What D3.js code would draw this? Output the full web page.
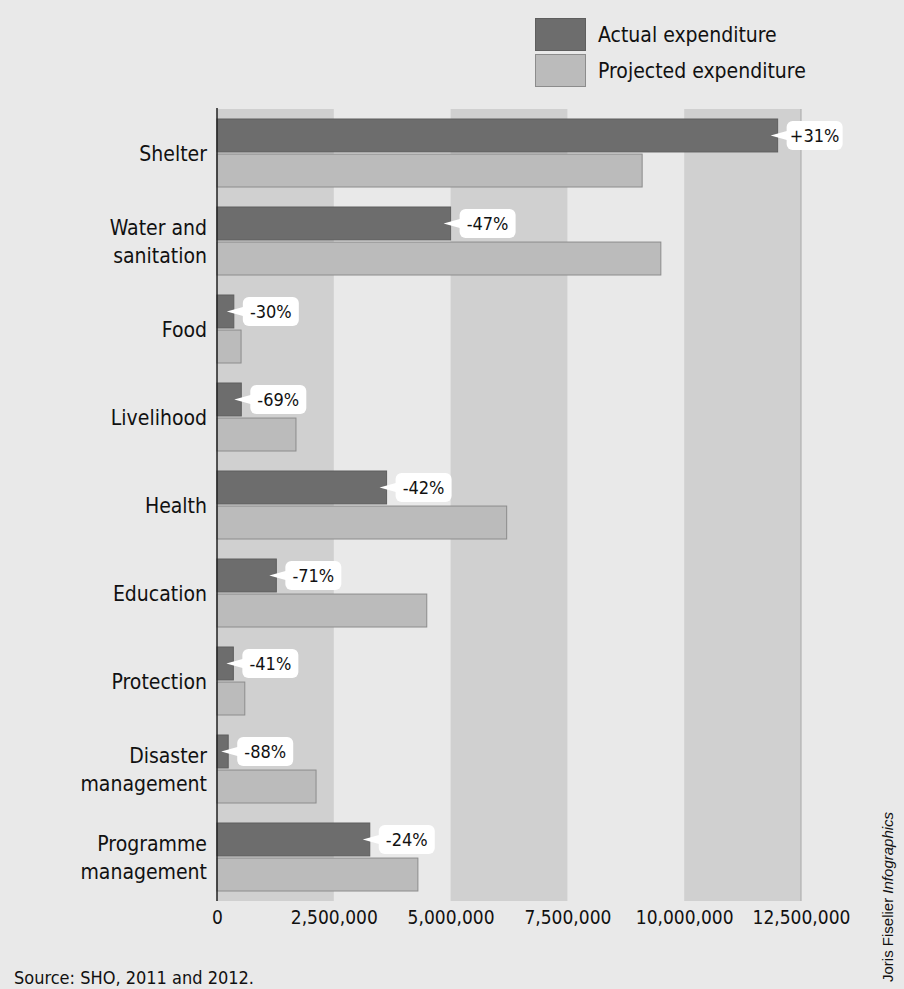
<!DOCTYPE html>
<html>
<head>
<meta charset="utf-8">
<script src="https://cdnjs.cloudflare.com/ajax/libs/d3/7.8.5/d3.min.js"></script>
<style>
  body { margin: 0; background: #e9e9e9; }
  svg { display: block; }
  text { font-family: "Liberation Sans Narrow", "DejaVu Sans Condensed", "Roboto", sans-serif; fill: #111; }
</style>
</head>
<body>
<div id="chart"></div>
<script>
var width = 904;
var height = 989;

// data (US$)
var categories = ["Shelter", "Water and\nsanitation", "Food", "Livelihood", "Health",
                  "Education", "Protection", "Disaster\nmanagement", "Programme\nmanagement"];
var actual    = [12000000, 5000000, 360000, 520000, 3630000, 1270000, 350000, 240000, 3270000];
var projected = [9100000, 9500000, 515000, 1690000, 6200000, 4490000, 595000, 2120000, 4300000];
var changeLabels = ["+31%", "-47%", "-30%", "-69%", "-42%", "-71%", "-41%", "-88%", "-24%"];
var tickValues = [0, 2500000, 5000000, 7500000, 10000000, 12500000];
var seriesNames = ["Actual expenditure", "Projected expenditure"];

var colors = { actual: "#6d6d6d", projected: "#bbbbbb" };
var strokes = { actual: "#5e5e5e", projected: "#8c8c8c" };

var plotLeft = 217, plotRight = 801, plotTop = 109, plotBottom = 901;

var svg = d3.select("#chart")
            .append("svg")
            .attr("width", width)
            .attr("height", height);

svg.append("rect")
    .attr("width", width)
    .attr("height", height)
    .attr("fill", "#e9e9e9");

var x = d3.scaleLinear()
            .domain([0, 12500000])
            .range([plotLeft, plotRight]);

var y = d3.scaleBand()
            .domain(categories)
            .range([plotTop, plotBottom]);

var ySub = d3.scaleBand()
            .domain(["actual", "projected"])
            .range([10, y.bandwidth() - 10])
            .paddingInner(0.06);

// alternating vertical bands
var bandPairs = d3.pairs(tickValues).filter((d, i) => i % 2 === 0);
svg.append("g")
    .selectAll("rect")
    .data(bandPairs)
    .join("rect")
    .attr("x", d => x(d[0]))
    .attr("width", d => x(d[1]) - x(d[0]))
    .attr("y", plotTop)
    .attr("height", plotBottom - plotTop)
    .attr("fill", "#d0d0d0");

svg.append("line")
    .attr("x1", x(12500000)).attr("x2", x(12500000))
    .attr("y1", plotTop).attr("y2", plotBottom)
    .attr("stroke", "#a8a8a8")
    .attr("stroke-width", 1);

// bars
var rows = categories.map((c, i) => ({ cat: c, actual: actual[i], projected: projected[i], label: changeLabels[i] }));

var groups = svg.append("g")
    .selectAll("g")
    .data(rows)
    .join("g")
    .attr("transform", d => "translate(0," + y(d.cat) + ")");

["projected", "actual"].forEach(function(key) {
    groups.append("rect")
        .attr("x", x(0))
        .attr("y", ySub(key))
        .attr("width", d => x(d[key]) - x(0))
        .attr("height", ySub.bandwidth())
        .attr("fill", colors[key])
        .attr("stroke", strokes[key])
        .attr("stroke-width", 1);
});

// callouts
var boxW = 56, boxH = 29;
var callout = groups.append("g")
    .attr("transform", d => "translate(" + (x(d.actual) + 9) + "," + (ySub("actual") + ySub.bandwidth() / 2) + ")");

callout.append("path")
    .attr("d", "M-16,0 L2,-5 L2,5 Z")
    .attr("fill", "white");

callout.append("rect")
    .attr("x", 0)
    .attr("y", -boxH / 2)
    .attr("width", boxW)
    .attr("height", boxH)
    .attr("rx", 6)
    .attr("fill", "white");

callout.append("text")
    .attr("x", boxW / 2)
    .attr("y", 6.5)
    .attr("text-anchor", "middle")
    .attr("font-size", 18)
    .text(d => d.label);

// category labels
groups.append("text")
    .attr("text-anchor", "end")
    .attr("font-size", 21)
    .each(function(d) {
        var lines = d.cat.split("\n");
        var el = d3.select(this);
        var mid = y.bandwidth() / 2;
        lines.forEach(function(line, j) {
            el.append("tspan")
                .attr("x", plotLeft - 10)
                .attr("y", mid + 8 + (j - (lines.length - 1) / 2) * 28)
                .text(line);
        });
    });

// vertical axis line
svg.append("line")
    .attr("x1", plotLeft).attr("x2", plotLeft)
    .attr("y1", plotTop - 1).attr("y2", plotBottom)
    .attr("stroke", "#222")
    .attr("stroke-width", 1.5);

// x axis
var xAxis = d3.axisBottom(x)
    .tickValues(tickValues)
    .tickSize(0)
    .tickPadding(0)
    .tickFormat(d3.format(",d"));

var axisG = svg.append("g")
    .attr("transform", "translate(0," + (plotBottom + 23) + ")")
    .call(xAxis);
axisG.select(".domain").remove();
axisG.selectAll("text")
    .attr("font-size", 19)
    .attr("font-family", null)
    .attr("fill", "#111")
    .attr("dy", 0);

// legend
var legend = svg.append("g").attr("transform", "translate(535,18)");
seriesNames.forEach(function(name, i) {
    var key = i === 0 ? "actual" : "projected";
    legend.append("rect")
        .attr("x", 0.5)
        .attr("y", i * 36 + 0.5)
        .attr("width", 50)
        .attr("height", 32)
        .attr("fill", colors[key])
        .attr("stroke", strokes[key]);
    legend.append("text")
        .attr("x", 63)
        .attr("y", i * 36 + 24)
        .attr("font-size", 21)
        .text(name);
});

// source
svg.append("text")
    .attr("x", 14)
    .attr("y", 984)
    .attr("font-size", 18)
    .text("Source: SHO, 2011 and 2012.");

// credit
var credit = svg.append("text")
    .attr("transform", "translate(893,982) rotate(-90)")
    .attr("font-size", 15)
    .style("font-family", "'Liberation Sans', Arial, sans-serif")
    .attr("fill", "#222");
credit.append("tspan").text("Joris Fiselier ");
credit.append("tspan").attr("font-style", "italic").text("Infographics");
</script>
</body>
</html>
